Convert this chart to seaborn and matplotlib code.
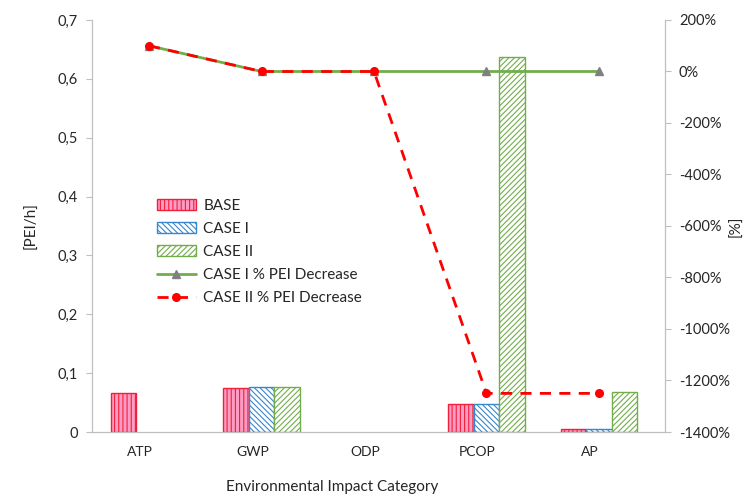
import matplotlib
matplotlib.use("Agg")
import matplotlib.pyplot as plt
import matplotlib.ticker as mticker
from matplotlib.patches import Patch
from matplotlib.lines import Line2D
import numpy as np
import pandas as pd
import seaborn as sns

categories = ["ATP", "GWP", "ODP", "PCOP", "AP"]
scenarios = ["BASE", "CASE I", "CASE II"]
base_vals = [0.067, 0.075, 0.0, 0.048, 0.0045]
case1_vals = [0.0, 0.076, 0.0, 0.048, 0.0045]
case2_vals = [0.0, 0.076, 0.0, 0.637, 0.068]
case1_pct = [100, 0, 0, 0, 0]
case2_pct = [100, 0, 0, -1250, -1250]

sns.set_style("white")
plt.rcParams["font.family"] = ["Lato", "DejaVu Sans"]
plt.rcParams["hatch.linewidth"] = 0.8

df = pd.DataFrame({
    "category": categories * 3,
    "scenario": [s for s in scenarios for _ in categories],
    "value": base_vals + case1_vals + case2_vals,
})

face = {"BASE": "#ff9cc3", "CASE I": "white", "CASE II": "white"}
edge = {"BASE": "#f0203c", "CASE I": "#3a86cc", "CASE II": "#72ad4c"}
hatch = {"BASE": "||||", "CASE I": "\\\\\\\\\\\\", "CASE II": "//////"}

fig = plt.figure(figsize=(7.52, 4.97), dpi=100)
ax1 = fig.add_axes([92 / 752, 1 - 432 / 497, 573 / 752, 412 / 497])

sns.barplot(data=df, x="category", y="value", hue="scenario", order=categories,
            hue_order=scenarios, width=0.68, ax=ax1, legend=False, errorbar=None)

for cont, sc in zip(ax1.containers, scenarios):
    for p in cont:
        p.set_facecolor(face[sc])
        p.set_edgecolor(edge[sc])
        p.set_hatch(hatch[sc])
        p.set_linewidth(1.0)
        if p.get_height() == 0:
            p.set_visible(False)

x = np.arange(len(categories))
ax1.set_xlim(-0.507, 4.587)
# category labels sit a little left of the groups in the original
ax1.set_xticks(x - 0.08, categories)
ax1.set_ylim(0, 0.7)
ax1.set_yticks(np.arange(0, 0.71, 0.1))
ax1.yaxis.set_major_formatter(mticker.FuncFormatter(
    lambda v, _: "0" if abs(v) < 1e-9 else f"{v:.1f}".replace(".", ",")))
ax1.set_ylabel("[PEI/h]", fontsize=11, color="#262626", labelpad=14)

ax2 = ax1.twinx()
ax2.plot(x, case1_pct, color="#72ad4c", lw=2, marker="^", ms=6,
         mfc="#808080", mec="#808080", label="CASE I % PEI Decrease")
ax2.plot(x, case2_pct, color="#ff0000", lw=2, ls=(0, (4, 3)), marker="o", ms=5.5,
         mfc="#ff0000", mec="#ff0000", label="CASE II % PEI Decrease")
ax2.set_ylim(-1400, 200)
ax2.set_yticks(np.arange(-1400, 201, 200))
ax2.yaxis.set_major_formatter(mticker.FuncFormatter(lambda v, _: f"{int(round(v))}%"))
ax2.set_ylabel("[%]", fontsize=11, color="#262626", va="center")

for ax in (ax1, ax2):
    for s in ax.spines.values():
        s.set_color("#bfbfbf")
    ax.spines["top"].set_visible(False)
    ax.tick_params(axis="y", length=4, color="#bfbfbf", labelsize=10.5, labelcolor="#262626", pad=6)
    ax.tick_params(axis="x", length=0, labelsize=10, labelcolor="#262626", pad=10)
    ax.grid(False)
ax1.set_xlabel("Environmental Impact Category", fontsize=11, color="#262626", va="center")
ax1.xaxis.set_label_coords(0.42, -0.134)
ax2.yaxis.set_label_coords(1.125, 0.5)

handles = [Patch(facecolor=face[s], edgecolor=edge[s], hatch=hatch[s], label=s) for s in scenarios]
handles += [
    Line2D([], [], color="#72ad4c", lw=2, marker="^", ms=6, mfc="#808080", mec="#808080",
           label="CASE I % PEI Decrease"),
    Line2D([], [], color="#ff0000", lw=2, ls=(0, (4, 3)), marker="o", ms=5.5,
           mfc="#ff0000", mec="#ff0000", label="CASE II % PEI Decrease"),
]
leg = ax2.legend(handles=handles, loc="upper left", bbox_to_anchor=(0.09, 0.6),
                 frameon=False, fontsize=11, handlelength=2.5, labelspacing=0.6,
                 handletextpad=0.5)
for t in leg.get_texts():
    t.set_color("#262626")

fig.savefig("out.png", dpi=100)
